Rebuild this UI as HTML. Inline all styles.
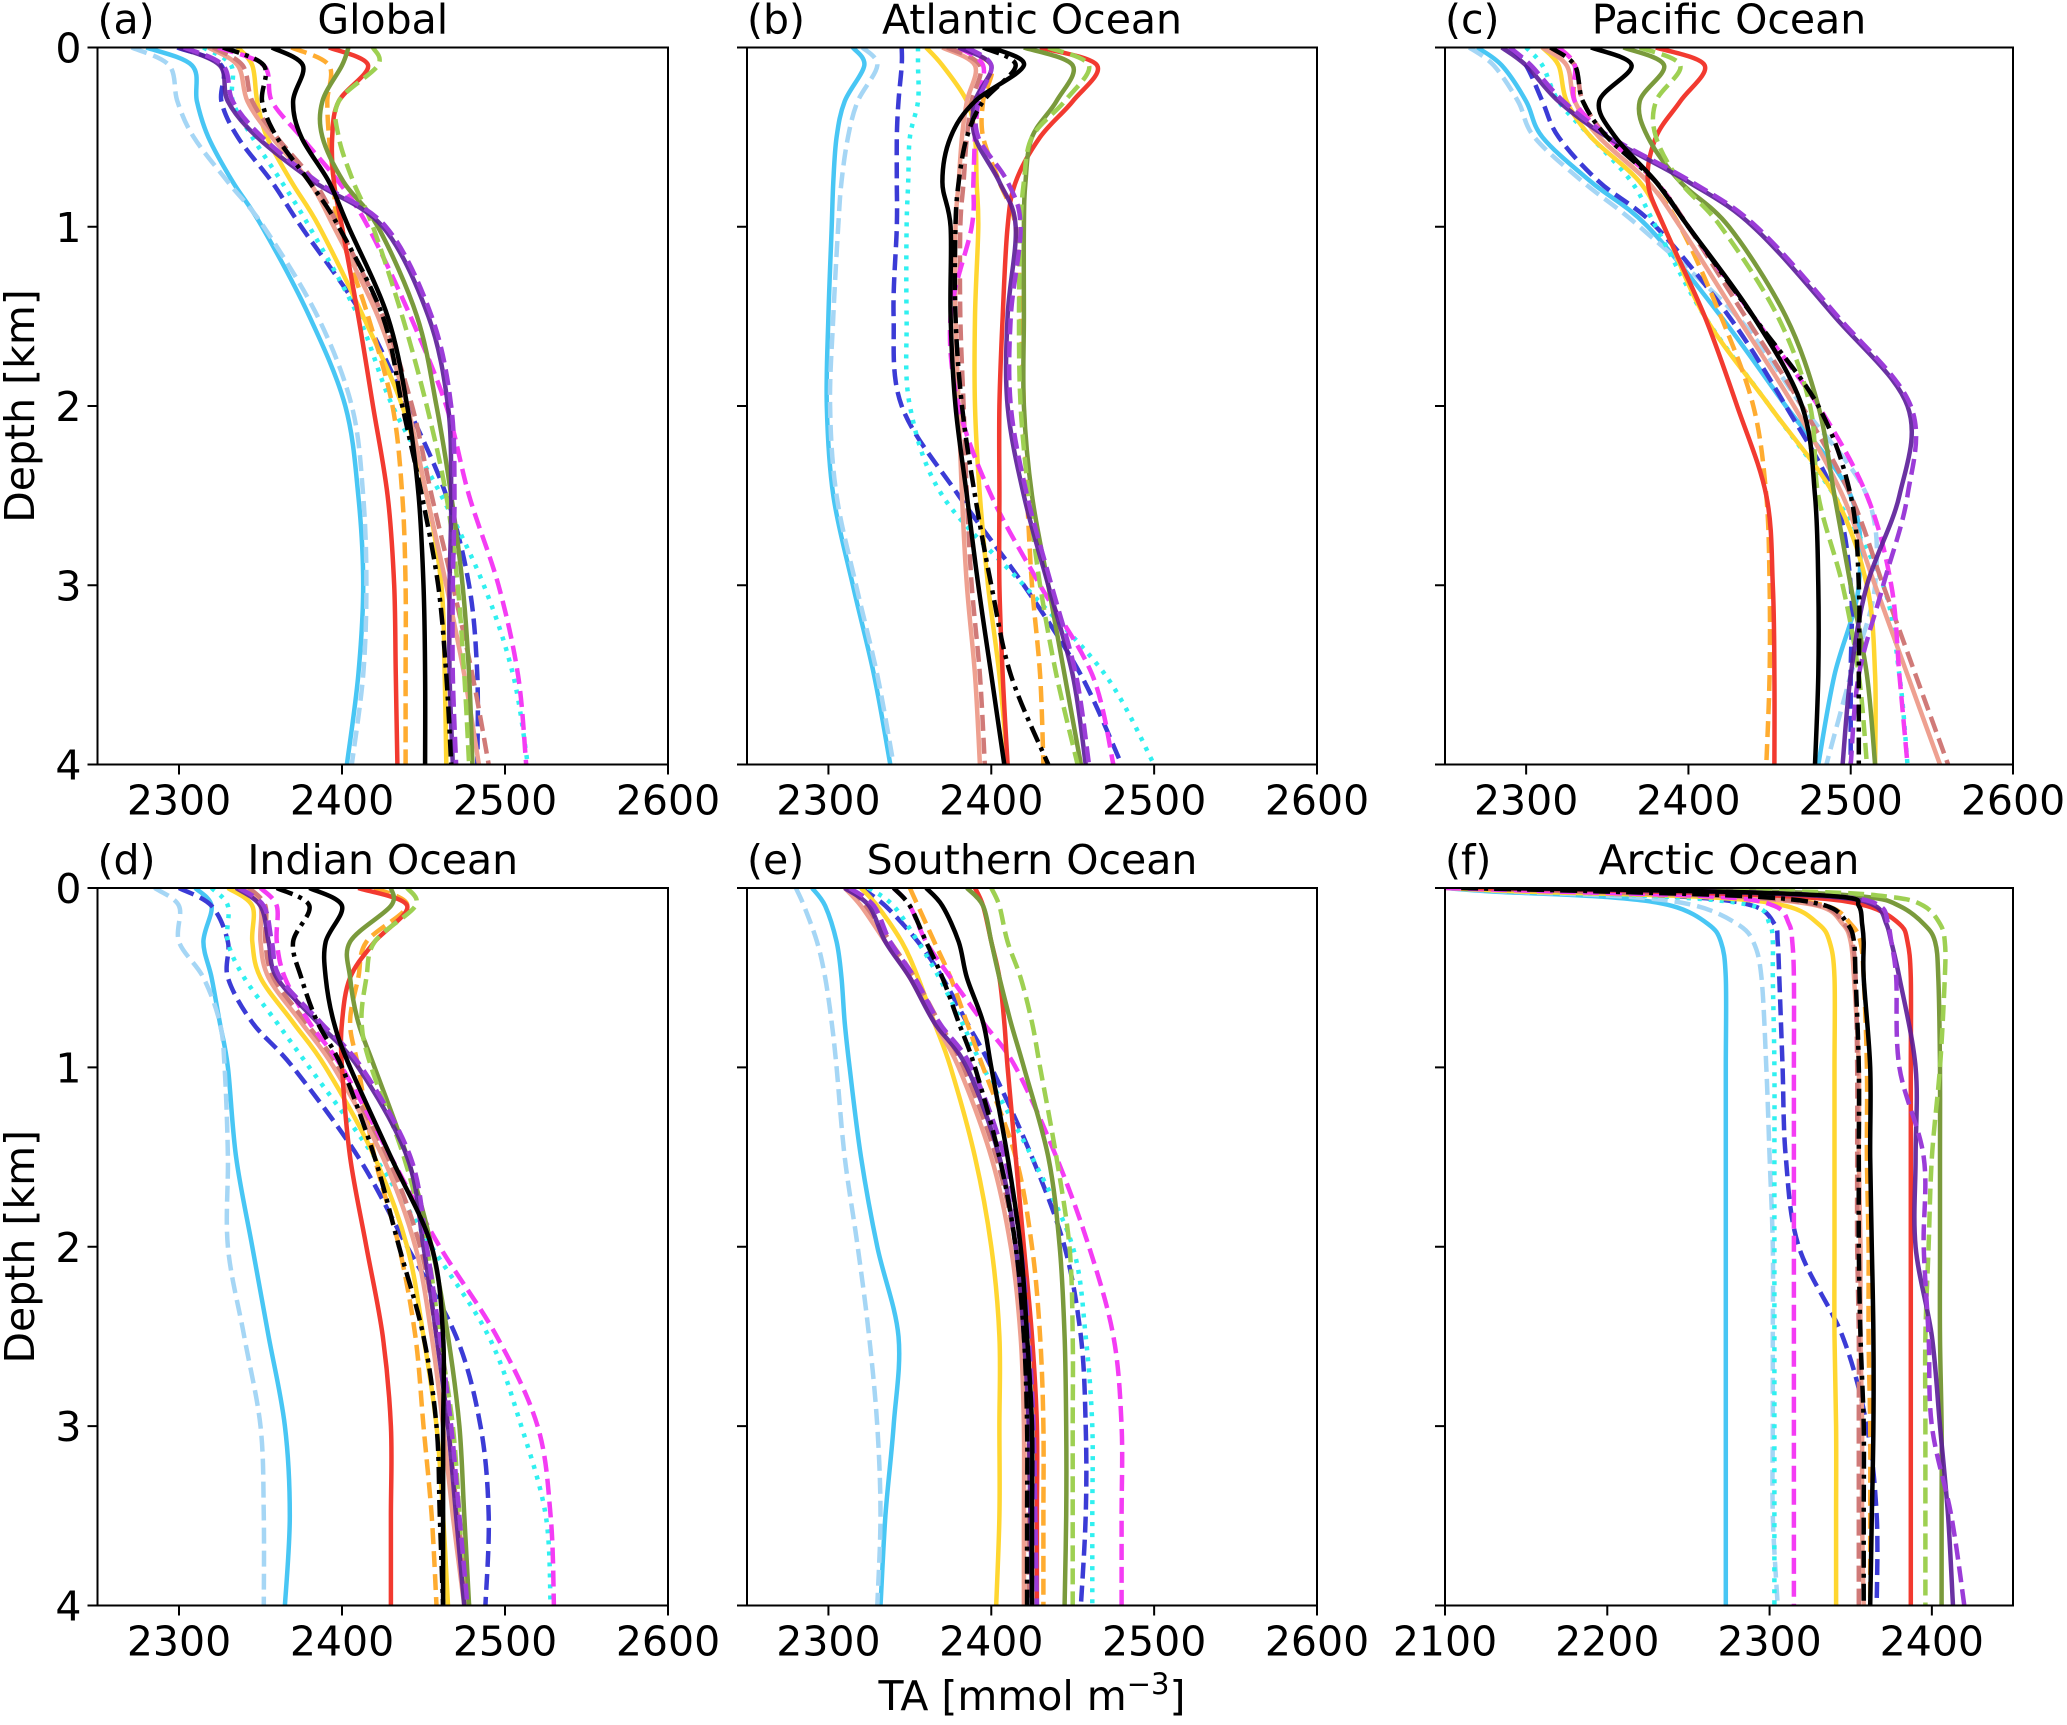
<!DOCTYPE html>
<html><head><meta charset="utf-8"><style>
html,body{margin:0;padding:0;background:#fff}
svg text{font-family:"DejaVu Sans","Liberation Sans",sans-serif;fill:#000}
</style></head><body>
<svg id="chart" xmlns="http://www.w3.org/2000/svg" width="2067" height="1720" viewBox="0 0 2067 1720"></svg>
<script>
// ---- data ----
const seriesNames = ["ls","lbd","bd","cyd","yel","ora","sal","ros","mag","red","oli","ygd","pur","pud","blk","bdd"];
const depthStd = [0,0.1,0.3,0.5,0.75,1,1.5,2,2.5,3,3.5,4];
const depthArc = [0,0.02,0.05,0.1,0.2,0.3,0.5,1,1.5,2,2.5,3,3.5,4];
const panelTitles = ["Global","Atlantic Ocean","Pacific Ocean","Indian Ocean","Southern Ocean","Arctic Ocean"];
const panelLetters = ["(a)","(b)","(c)","(d)","(e)","(f)"];
const xTicksStd = [2300,2400,2500,2600];
const xTicksArc = [2100,2200,2300,2400];
const yTicks = [0,1,2,3,4];
const globalVals = {
ls:[2280,2308,2311,2318,2333,2351,2380,2402,2410,2413,2410,2403],
lbd:[2271,2294,2299,2309,2330,2352,2385,2406,2413,2415,2413,2406],
bd:[2299,2326,2326,2336,2357,2375,2413,2440,2464,2478,2483,2483],
cyd:[2315,2332,2333,2345,2363,2380,2410,2431,2461,2487,2505,2514],
yel:[2336,2345,2348,2354,2369,2386,2413,2437,2452,2461,2463,2464],
ora:[2369,2392,2391,2392,2395,2398,2416,2431,2437,2439,2439,2439],
sal:[2318,2336,2342,2357,2380,2395,2422,2440,2452,2464,2475,2484],
ros:[2321,2339,2345,2360,2383,2398,2425,2443,2455,2468,2480,2490],
mag:[2324,2352,2357,2375,2398,2416,2442,2464,2478,2496,2508,2513],
red:[2392,2416,2398,2394,2395,2400,2410,2419,2428,2432,2433,2434],
oli:[2404,2400,2388,2388,2401,2422,2446,2458,2467,2474,2478,2480],
ygd:[2419,2422,2398,2398,2407,2419,2437,2452,2464,2471,2475,2478],
pur:[2300,2325,2330,2348,2383,2425,2453,2465,2467,2466,2466,2468],
pud:[2303,2327,2333,2351,2385,2427,2455,2467,2469,2468,2468,2470],
blk:[2357,2376,2370,2375,2392,2404,2428,2440,2447,2450,2451,2451],
bdd:[2327,2352,2351,2360,2380,2398,2425,2437,2449,2459,2464,2467]};
const atlanticVals = {
ls:[2315,2322,2310,2305,2303,2302,2300,2299,2303,2315,2328,2338],
lbd:[2321,2330,2318,2312,2308,2306,2303,2301,2305,2317,2330,2340],
bd:[2345,2345,2343,2342,2342,2342,2340,2345,2380,2420,2455,2480],
cyd:[2355,2355,2355,2350,2349,2348,2348,2350,2370,2420,2470,2500],
yel:[2360,2370,2385,2390,2391,2392,2390,2390,2393,2398,2405,2410],
ora:[2380,2400,2395,2395,2405,2415,2418,2420,2422,2425,2430,2432],
sal:[2370,2390,2385,2382,2380,2378,2378,2380,2382,2385,2390,2393],
ros:[2373,2393,2388,2385,2383,2381,2381,2383,2385,2388,2393,2396],
mag:[2380,2395,2392,2390,2389,2388,2375,2380,2400,2430,2462,2475],
red:[2430,2465,2450,2430,2415,2410,2407,2405,2405,2405,2407,2410],
oli:[2420,2450,2440,2425,2421,2420,2420,2420,2425,2435,2445,2455],
ygd:[2435,2460,2445,2425,2420,2418,2417,2418,2423,2430,2440,2453],
pur:[2380,2400,2390,2390,2405,2415,2410,2410,2420,2435,2450,2458],
pud:[2385,2400,2392,2392,2410,2418,2412,2412,2422,2437,2452,2460],
blk:[2400,2420,2390,2375,2370,2375,2375,2378,2385,2392,2400,2408],
bdd:[2395,2415,2395,2385,2380,2378,2378,2382,2390,2400,2412,2435]};
const pacificVals = {
ls:[2270,2285,2300,2310,2340,2375,2420,2460,2500,2505,2490,2480],
lbd:[2265,2280,2295,2305,2335,2370,2430,2470,2510,2515,2500,2485],
bd:[2290,2300,2310,2320,2345,2380,2425,2460,2490,2500,2500,2500],
cyd:[2300,2310,2320,2340,2365,2380,2410,2450,2490,2520,2530,2535],
yel:[2310,2320,2325,2340,2370,2385,2410,2450,2490,2510,2515,2515],
ora:[2320,2330,2330,2345,2375,2395,2420,2440,2448,2450,2450,2448],
sal:[2310,2325,2330,2345,2375,2395,2430,2465,2495,2515,2535,2555],
ros:[2315,2330,2335,2350,2380,2400,2435,2470,2500,2520,2540,2560],
mag:[2320,2330,2330,2350,2380,2400,2440,2480,2510,2525,2530,2535],
red:[2380,2410,2395,2380,2375,2385,2410,2430,2448,2452,2453,2453],
oli:[2360,2385,2370,2375,2395,2425,2460,2480,2490,2500,2510,2515],
ygd:[2370,2395,2380,2380,2395,2420,2455,2475,2480,2495,2505,2510],
pur:[2285,2300,2320,2350,2400,2440,2490,2535,2530,2510,2500,2495],
pud:[2290,2303,2323,2352,2402,2442,2492,2537,2535,2520,2505,2500],
blk:[2340,2365,2345,2355,2380,2400,2440,2470,2478,2480,2480,2478],
bdd:[2315,2330,2335,2350,2380,2400,2440,2480,2500,2505,2505,2505]};
const indianVals = {
ls:[2310,2320,2315,2320,2325,2330,2335,2345,2355,2365,2368,2365],
lbd:[2285,2300,2300,2315,2325,2328,2330,2330,2340,2350,2352,2352],
bd:[2300,2320,2330,2330,2345,2370,2410,2440,2470,2485,2490,2488],
cyd:[2320,2330,2330,2340,2360,2380,2420,2455,2490,2510,2525,2528],
yel:[2330,2345,2345,2350,2370,2390,2420,2440,2450,2458,2462,2465],
ora:[2420,2440,2415,2410,2405,2410,2420,2435,2445,2450,2455,2458],
sal:[2340,2350,2350,2355,2375,2395,2425,2445,2455,2462,2468,2475],
ros:[2343,2353,2353,2358,2378,2398,2428,2448,2458,2465,2471,2478],
mag:[2350,2360,2360,2365,2380,2400,2430,2460,2495,2520,2528,2530],
red:[2410,2440,2420,2405,2400,2400,2405,2415,2425,2430,2430,2430],
oli:[2430,2430,2405,2405,2410,2420,2440,2455,2465,2472,2475,2478],
ygd:[2440,2445,2420,2415,2412,2418,2438,2452,2460,2468,2472,2475],
pur:[2335,2350,2355,2360,2385,2410,2440,2450,2458,2465,2470,2475],
pud:[2337,2352,2357,2362,2387,2412,2442,2452,2460,2467,2472,2477],
blk:[2380,2400,2390,2390,2395,2405,2430,2455,2462,2462,2462,2462],
bdd:[2360,2380,2370,2375,2385,2400,2420,2435,2450,2458,2460,2462]};
const southernVals = {
ls:[2290,2298,2305,2308,2310,2313,2320,2330,2343,2340,2335,2332],
lbd:[2280,2285,2293,2298,2302,2305,2310,2318,2325,2330,2332,2330],
bd:[2320,2335,2355,2370,2385,2400,2425,2445,2455,2458,2458,2455],
cyd:[2325,2340,2355,2368,2382,2395,2425,2450,2458,2462,2462,2462],
yel:[2320,2330,2345,2355,2365,2375,2390,2400,2405,2405,2405,2403],
ora:[2350,2355,2365,2375,2385,2395,2415,2425,2430,2432,2432,2432],
sal:[2310,2320,2335,2350,2365,2380,2400,2412,2418,2420,2420,2420],
ros:[2313,2323,2338,2353,2368,2383,2403,2415,2421,2423,2423,2423],
mag:[2340,2350,2360,2375,2395,2415,2440,2460,2475,2480,2480,2480],
red:[2390,2395,2400,2405,2408,2410,2415,2420,2425,2428,2428,2428],
oli:[2385,2395,2400,2405,2412,2420,2435,2442,2445,2446,2446,2445],
ygd:[2400,2405,2410,2418,2425,2430,2440,2448,2450,2450,2450,2450],
pur:[2310,2325,2335,2350,2365,2385,2405,2415,2420,2423,2424,2425],
pud:[2313,2328,2338,2353,2368,2388,2408,2418,2423,2426,2427,2428],
blk:[2360,2370,2380,2385,2395,2400,2410,2418,2422,2425,2425,2425],
bdd:[2340,2350,2360,2370,2380,2390,2405,2415,2420,2422,2422,2422]};
const arcticVals = {
ls:[2100,2130,2200,2240,2262,2270,2273,2273,2273,2273,2273,2273,2273,2273],
lbd:[2100,2140,2215,2255,2280,2290,2295,2298,2300,2302,2302,2302,2302,2305],
bd:[2100,2160,2250,2290,2303,2305,2306,2308,2310,2318,2345,2360,2366,2366],
cyd:[2100,2150,2240,2290,2300,2302,2302,2303,2303,2303,2303,2303,2303,2303],
yel:[2100,2150,2260,2310,2330,2337,2340,2340,2340,2340,2340,2341,2341,2341],
ora:[2110,2180,2290,2335,2350,2356,2358,2360,2360,2361,2361,2362,2362,2362],
sal:[2110,2190,2280,2330,2345,2350,2352,2355,2355,2356,2356,2357,2357,2358],
ros:[2110,2185,2285,2332,2346,2351,2353,2354,2354,2354,2355,2355,2355,2355],
mag:[2100,2170,2270,2303,2312,2314,2315,2315,2315,2315,2315,2315,2315,2315],
red:[2120,2230,2320,2360,2380,2385,2387,2387,2387,2387,2387,2387,2387,2387],
oli:[2150,2300,2360,2380,2395,2402,2404,2405,2405,2405,2405,2406,2406,2406],
ygd:[2150,2320,2375,2395,2405,2408,2408,2405,2400,2398,2396,2396,2396,2396],
pur:[2130,2260,2340,2365,2372,2375,2380,2390,2390,2390,2400,2405,2410,2413],
pud:[2130,2270,2345,2368,2373,2375,2378,2380,2395,2395,2398,2400,2412,2420],
blk:[2140,2270,2345,2355,2357,2358,2358,2362,2362,2363,2364,2364,2363,2362],
bdd:[2110,2200,2295,2335,2348,2352,2353,2355,2355,2355,2356,2358,2358,2358]};

// ---- styles ----
const styles = {
ls:{c:"#48c6f4",d:"",o:1},lbd:{c:"#a5d6f5",d:"16 7",o:1},bd:{c:"#3b3bd6",d:"16 7",o:1},
cyd:{c:"#30f0f0",d:"4 7",o:1},yel:{c:"#ffd630",d:"",o:1},ora:{c:"#ffac30",d:"16 7",o:1},
sal:{c:"#eea090",d:"",o:1},ros:{c:"#d07a78",d:"16 7",o:1},mag:{c:"#f43cf4",d:"16 7",o:1},
red:{c:"#f23a30",d:"",o:1},oli:{c:"#7a9a3c",d:"",o:1},ygd:{c:"#9ed052",d:"16 7",o:1},
pur:{c:"#5a1c98",d:"",o:0.9},pud:{c:"#9b3cd8",d:"16 7",o:1},blk:{c:"#000",d:"",o:1},bdd:{c:"#000",d:"17 6 4 6",o:1}};
const svg = document.getElementById('chart');
const NS = "http://www.w3.org/2000/svg";
function mk(tag, attrs, parent){const e=document.createElementNS(NS,tag);for(const k in attrs)e.setAttribute(k,attrs[k]);(parent||svg).appendChild(e);return e;}
function smoothPath(P){
  let d='M'+P[0][0].toFixed(1)+','+P[0][1].toFixed(1);
  for(let i=0;i<P.length-1;i++){
    const p0=P[Math.max(i-1,0)],p1=P[i],p2=P[i+1],p3=P[Math.min(i+2,P.length-1)];
    const c1=[p1[0]+(p2[0]-p0[0])/6,p1[1]+(p2[1]-p0[1])/6];
    const c2=[p2[0]-(p3[0]-p1[0])/6,p2[1]-(p3[1]-p1[1])/6];
    d+=' C'+c1[0].toFixed(1)+','+c1[1].toFixed(1)+' '+c2[0].toFixed(1)+','+c2[1].toFixed(1)+' '+p2[0].toFixed(1)+','+p2[1].toFixed(1);
  }
  return d;
}
const colX=[[97.5,668],[747,1317],[1445,2013]];
const rowY=[[47.5,764.5],[888,1605.5]];
const panels=[
{vals:globalVals,depth:depthStd,xmin:2250,xmax:2600,ticks:xTicksStd},
{vals:atlanticVals,depth:depthStd,xmin:2250,xmax:2600,ticks:xTicksStd},
{vals:pacificVals,depth:depthStd,xmin:2250,xmax:2600,ticks:xTicksStd},
{vals:indianVals,depth:depthStd,xmin:2250,xmax:2600,ticks:xTicksStd},
{vals:southernVals,depth:depthStd,xmin:2250,xmax:2600,ticks:xTicksStd},
{vals:arcticVals,depth:depthArc,xmin:2100,xmax:2450,ticks:xTicksArc}];
panels.forEach((p,i)=>{
  const [x0,x1]=colX[i%3],[y0,y1]=rowY[Math.floor(i/3)];
  const sx=v=>x0+(v-p.xmin)/(p.xmax-p.xmin)*(x1-x0);
  const sy=d=>y0+d/4*(y1-y0);
  const g=mk('g',{});
  
  
  const clipId='clip'+i;
  const cp=mk('clipPath',{id:clipId},g);mk('rect',{x:x0,y:y0,width:x1-x0,height:y1-y0},cp);
  const lg=mk('g',{'clip-path':'url(#'+clipId+')'},g);
  seriesNames.forEach(s=>{
    const arr=p.vals[s];const st=styles[s];
    const P=arr.map((v,k)=>[sx(v),sy(p.depth[k])]);
    const pl=mk('path',{d:smoothPath(P),fill:'none',stroke:st.c,'stroke-width':4.5,'stroke-opacity':st.o,'stroke-linejoin':'round','stroke-dasharray':st.d||'none'},lg);
    
    
  });
  mk('rect',{x:x0,y:y0,width:x1-x0,height:y1-y0,fill:'none',stroke:'#000','stroke-width':2},g);
  p.ticks.forEach(t=>{
    const x=sx(t);
    mk('line',{x1:x,x2:x,y1:y1,y2:y1+10,stroke:'#000','stroke-width':2},g);
    const tx=mk('text',{x:x,y:y1+50,'text-anchor':'middle','font-size':41},g);tx.textContent=t;
    
    
  });
  yTicks.forEach(t=>{
    const y=sy(t);
    mk('line',{x1:x0-10,x2:x0,y1:y,y2:y,stroke:'#000','stroke-width':2},g);
    if(i%3===0){const ty=mk('text',{x:x0-16,y:y+15,'text-anchor':'end','font-size':41},g);ty.textContent=t;
      
      }
  });
  const lt=mk('text',{x:x0,y:y0-14,'font-size':41},g);lt.textContent=panelLetters[i];
  
  
  const tt=mk('text',{x:(x0+x1)/2,y:y0-14,'text-anchor':'middle','font-size':41},g);tt.textContent=panelTitles[i];
  
  
  if(i%3===0){const yl=mk('text',{x:0,y:0,'text-anchor':'middle','font-size':41,transform:'translate(34,'+((y0+y1)/2)+') rotate(-90)'},g);yl.textContent='Depth [km]';
    
    }
});
const xl=mk('text',{x:1032,y:1710,'text-anchor':'middle','font-size':41});


xl.innerHTML='TA [mmol m<tspan dy="-16" font-size="29">−3</tspan><tspan dy="16">]</tspan>';
</script>
</body></html>
